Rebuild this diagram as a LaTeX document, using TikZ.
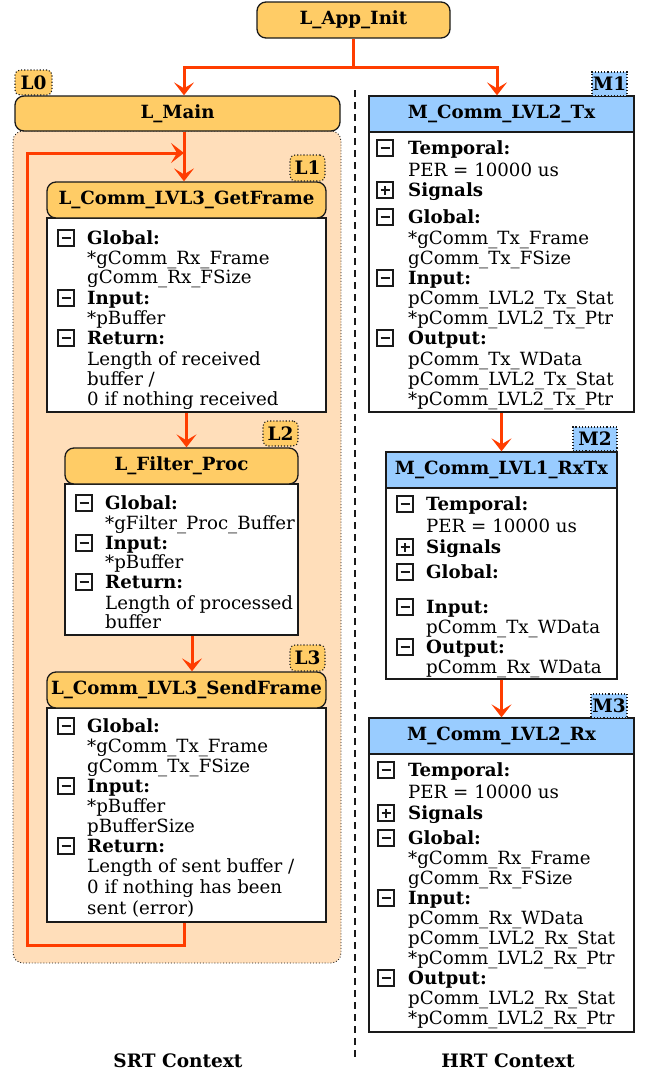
\documentclass[tikz,border=0pt]{standalone}
\usepackage{fontspec}
\setmainfont{DejaVu Serif}
\usetikzlibrary{arrows.meta}
\definecolor{hdrorange}{HTML}{FFCC66}
\definecolor{ctxpeach}{HTML}{FFDEBA}
\definecolor{hdrblue}{HTML}{99CCFF}
\definecolor{flowred}{HTML}{FF3D00}
\definecolor{edge}{HTML}{1A1A1A}

\tikzset{
  every node/.style={font=\fontsize{18.2}{20}\selectfont},
  lhead/.style={draw=edge, line width=1.3pt, fill=hdrorange, rounded corners=9pt,
    inner sep=0pt, font=\fontsize{18.2}{20}\selectfont\bfseries},
  mhead/.style={draw=edge, line width=1.3pt, fill=hdrblue,
    inner sep=0pt, font=\fontsize{18.2}{20}\selectfont\bfseries},
  bodybox/.style={draw=edge, line width=1.3pt, fill=white, inner sep=0pt},
  ltag/.style={draw=edge, dotted, line width=1.1pt, fill=hdrorange, rounded corners=5pt,
    inner sep=0pt, font=\fontsize{18.5}{20}\selectfont\bfseries},
  mtag/.style={draw=edge, dotted, line width=1.1pt, fill=hdrblue,
    inner sep=0pt, font=\fontsize{18.5}{20}\selectfont\bfseries},
  ctxbox/.style={draw=edge, dotted, line width=0.9pt, fill=ctxpeach, rounded corners=10pt, inner sep=0pt},
  flow/.style={draw=flowred, line width=3pt},
  arr/.style={flow, -{Stealth[length=13pt,width=20pt,inset=6pt]}},
  minusicon/.style={draw=edge, line width=1.6pt, fill=white, minimum width=16pt, minimum height=16pt,
    inner sep=0pt, outer sep=0pt,
    path picture={\draw[line width=1.5pt]
      ([xshift=3.5pt]path picture bounding box.west) -- ([xshift=-3.5pt]path picture bounding box.east);}},
  plusicon/.style={minusicon,
    path picture={\draw[line width=1.5pt]
      ([xshift=3.5pt]path picture bounding box.west) -- ([xshift=-3.5pt]path picture bounding box.east)
      ([yshift=3.5pt]path picture bounding box.south) -- ([yshift=-3.5pt]path picture bounding box.north);}},
  ctxlabel/.style={font=\fontsize{18.5}{20}\selectfont\bfseries},
}

% one text line of a box body, placed by its baseline
\newcommand\tline[4]{\node[anchor=base west, inner sep=0pt] (#1) at (#2,#3+6) {#4};}
\newcommand\fminus[3]{\node[minusicon] (#1) at (#2,#3) {};}
\newcommand\fplus[3]{\node[plusicon] (#1) at (#2,#3) {};}

\begin{document}
\begin{tikzpicture}[x=1pt,y=-1pt]
\useasboundingbox (0,0) rectangle (648,1074);

% ---------- SRT side ----------
\node[ctxbox, minimum width=328pt, minimum height=832pt] (l0ctx) at (177,547) {};
\node[lhead, minimum width=193pt, minimum height=36pt] (app) at (353.5,20) {L\_App\_Init};
\node[ltag, minimum width=37pt, minimum height=25pt] (l0tag) at (33.5,82.5) {L0};
\node[lhead, minimum width=325pt, minimum height=35pt] (lmain) at (177.5,113.5) {L\_Main};

% L1
\node[bodybox, minimum width=279pt, minimum height=194pt] (l1body) at (186.5,315) {};
\node[lhead, minimum width=279pt, minimum height=36pt] (l1head) at (186.5,200) {L\_Comm\_LVL3\_GetFrame};
\node[ltag, minimum width=35pt, minimum height=26pt] (l1tag) at (307.5,168) {L1};
\fminus{l1i1}{66}{238}\tline{l1a}{87}{238}{\textbf{Global:}}
\tline{l1b}{87}{258}{*gComm\_Rx\_Frame}
\tline{l1c}{87}{277}{gComm\_Rx\_FSize}
\fminus{l1i2}{66}{298}\tline{l1d}{87}{298}{\textbf{Input:}}
\tline{l1e}{87}{318}{*pBuffer}
\fminus{l1i3}{66}{338}\tline{l1f}{87}{338}{\textbf{Return:}}
\tline{l1g}{87}{359}{Length of received}
\tline{l1h}{87}{379}{buffer /}
\tline{l1k}{87}{399}{0 if nothing received}

% L2
\node[bodybox, minimum width=233pt, minimum height=151pt] (l2body) at (181.5,559.5) {};
\node[lhead, minimum width=233pt, minimum height=36pt] (l2head) at (181.5,466) {L\_Filter\_Proc};
\node[ltag, minimum width=35pt, minimum height=25pt] (l2tag) at (280.5,433.5) {L2};
\fminus{l2i1}{84}{503}\tline{l2a}{105}{503}{\textbf{Global:}}
\tline{l2b}{105}{523}{*gFilter\_Proc\_Buffer}
\fminus{l2i2}{84}{543}\tline{l2c}{105}{543}{\textbf{Input:}}
\tline{l2d}{105}{562}{*pBuffer}
\fminus{l2i3}{84}{582}\tline{l2e}{105}{582}{\textbf{Return:}}
\tline{l2f}{105}{603}{Length of processed}
\tline{l2g}{105}{622}{buffer}

% L3
\node[bodybox, minimum width=279pt, minimum height=214pt] (l3body) at (186.5,815) {};
\node[lhead, minimum width=279pt, minimum height=36pt] (l3head) at (186.5,690) {L\_Comm\_LVL3\_SendFrame};
\node[ltag, minimum width=35pt, minimum height=26pt] (l3tag) at (307.5,658) {L3};
\fminus{l3i1}{66}{726}\tline{l3a}{87}{726}{\textbf{Global:}}
\tline{l3b}{87}{746}{*gComm\_Tx\_Frame}
\tline{l3c}{87}{766}{gComm\_Tx\_FSize}
\fminus{l3i2}{66}{786}\tline{l3d}{87}{786}{\textbf{Input:}}
\tline{l3e}{87}{806}{*pBuffer}
\tline{l3f}{87}{826}{pBufferSize}
\fminus{l3i3}{66}{846}\tline{l3g}{87}{846}{\textbf{Return:}}
\tline{l3h}{87}{866}{Length of sent buffer /}
\tline{l3k}{87}{887}{0 if nothing has been}
\tline{l3m}{87}{908}{sent (error)}

% ---------- HRT side ----------
% M1
\node[bodybox, minimum width=265pt, minimum height=280pt] (m1body) at (501.5,272) {};
\node[mhead, minimum width=265pt, minimum height=36pt] (m1head) at (501.5,114) {M\_Comm\_LVL2\_Tx};
\node[mtag, minimum width=35pt, minimum height=24pt] (m1tag) at (609.5,84) {M1};
\fminus{m1i1}{385}{148}\tline{m1a}{408}{148}{\textbf{Temporal:}}
\tline{m1b}{408}{170}{PER = 10000 us}
\fplus{m1i2}{385}{190}\tline{m1c}{408}{190}{\textbf{Signals}}
\fminus{m1i3}{385}{217}\tline{m1d}{408}{217}{\textbf{Global:}}
\tline{m1e}{408}{238}{*gComm\_Tx\_Frame}
\tline{m1f}{408}{258}{gComm\_Tx\_FSize}
\fminus{m1i4}{385}{278}\tline{m1g}{408}{278}{\textbf{Input:}}
\tline{m1h}{408}{298}{pComm\_LVL2\_Tx\_Stat}
\tline{m1k}{408}{318}{*pComm\_LVL2\_Tx\_Ptr}
\fminus{m1i5}{385}{338}\tline{m1m}{408}{338}{\textbf{Output:}}
\tline{m1n}{408}{359}{pComm\_Tx\_WData}
\tline{m1p}{408}{379}{pComm\_LVL2\_Tx\_Stat}
\tline{m1q}{408}{399}{*pComm\_LVL2\_Tx\_Ptr}

% M2
\node[bodybox, minimum width=231pt, minimum height=191pt] (m2body) at (501.5,583.5) {};
\node[mhead, minimum width=231pt, minimum height=36pt] (m2head) at (501.5,470) {M\_Comm\_LVL1\_RxTx};
\node[mtag, minimum width=44pt, minimum height=24pt] (m2tag) at (595,439) {M2};
\fminus{m2i1}{405}{504}\tline{m2a}{426}{504}{\textbf{Temporal:}}
\tline{m2b}{426}{526}{PER = 10000 us}
\fplus{m2i2}{405}{547}\tline{m2c}{426}{547}{\textbf{Signals}}
\fminus{m2i3}{405}{572}\tline{m2d}{426}{572}{\textbf{Global:}}
\fminus{m2i4}{405}{607}\tline{m2e}{426}{607}{\textbf{Input:}}
\tline{m2f}{426}{627}{pComm\_Tx\_WData}
\fminus{m2i5}{405}{647}\tline{m2g}{426}{647}{\textbf{Output:}}
\tline{m2h}{426}{667}{pComm\_Rx\_WData}

% M3
\node[bodybox, minimum width=265pt, minimum height=278pt] (m3body) at (501.5,893) {};
\node[mhead, minimum width=265pt, minimum height=36pt] (m3head) at (501.5,736) {M\_Comm\_LVL2\_Rx};
\node[mtag, minimum width=36pt, minimum height=24pt] (m3tag) at (609,706) {M3};
\fminus{m3i1}{386}{770}\tline{m3a}{408}{770}{\textbf{Temporal:}}
\tline{m3b}{408}{792}{PER = 10000 us}
\fplus{m3i2}{386}{813}\tline{m3c}{408}{813}{\textbf{Signals}}
\fminus{m3i3}{386}{838}\tline{m3d}{408}{838}{\textbf{Global:}}
\tline{m3e}{408}{858}{*gComm\_Rx\_Frame}
\tline{m3f}{408}{878}{gComm\_Rx\_FSize}
\fminus{m3i4}{386}{898}\tline{m3g}{408}{898}{\textbf{Input:}}
\tline{m3h}{408}{918}{pComm\_Rx\_WData}
\tline{m3k}{408}{938}{pComm\_LVL2\_Rx\_Stat}
\tline{m3m}{408}{958}{*pComm\_LVL2\_Rx\_Ptr}
\fminus{m3i5}{386}{978}\tline{m3n}{408}{978}{\textbf{Output:}}
\tline{m3p}{408}{998}{pComm\_LVL2\_Rx\_Stat}
\tline{m3q}{408}{1018}{*pComm\_LVL2\_Rx\_Ptr}

% context separator and labels
\coordinate (septop) at (355,90);
\coordinate (sepbot) at (355,1058);
\draw[edge, line width=1.6pt, dash pattern=on 7pt off 5pt] (septop) -- (sepbot);
\node[ctxlabel] (srt) at (178,1061) {SRT Context};
\node[ctxlabel] (hrt) at (508,1061) {HRT Context};

% ---------- control flow ----------
\coordinate (split) at (353.5,67);
\coordinate (loopin) at (184,153);
\draw[flow] (app.south) -- (split);
\draw[arr] (split) -| ([xshift=6.5pt]lmain.north);
\draw[arr] (split) -| ([xshift=-4.5pt]m1head.north);
\draw[arr] ([xshift=6.5pt]lmain.south) -- ([xshift=-2.5pt]l1head.north);
\draw[arr] (l1body.south) -- (l1body.south |- l2head.north);
\draw[arr] ([xshift=10.5pt]l2body.south) -- ([xshift=10.5pt]l2body.south |- l3head.north);
\draw[arr] ([xshift=-2.5pt]l3body.south) -- ++(0,23) -| (27,153) -- (loopin);
\draw[arr] (m1body.south) -- (m2head.north);
\draw[arr] (m2body.south) -- (m3head.north);
\end{tikzpicture}
\end{document}
